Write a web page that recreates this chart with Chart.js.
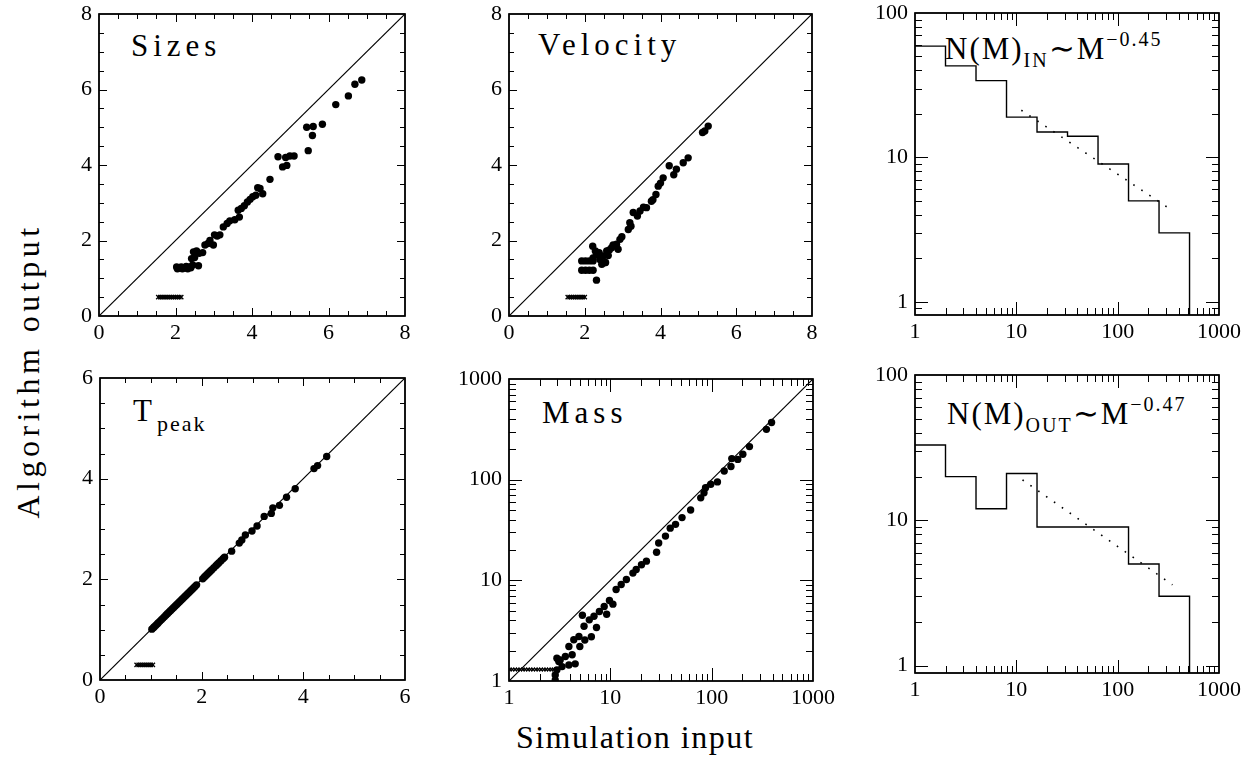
<!DOCTYPE html>
<html><head><meta charset="utf-8">
<script src="https://cdn.jsdelivr.net/npm/chart.js@4"></script>
<style>
body{margin:0;background:#fff;width:1254px;height:761px;position:relative;overflow:hidden;font-family:'Liberation Serif',serif;}
canvas{position:absolute;}
.lbl{position:absolute;font-family:'Liberation Serif',serif;color:#000;white-space:nowrap;font-size:31px;line-height:1;letter-spacing:5px;}
.sub{font-size:20px;position:relative;top:8px;letter-spacing:2px;}
.sup{font-size:20px;position:relative;top:-13px;letter-spacing:2px;}
.title{position:absolute;font-family:'Liberation Serif',serif;color:#000;white-space:nowrap;font-size:32px;line-height:1;}
</style></head><body>
<div class="lbl" style="left:131px;top:30px;">Sizes</div>
<div class="lbl" style="left:538px;top:29px;">Velocity</div>
<div class="lbl" style="left:945px;top:33px;letter-spacing:2px;">N(M)<span class="sub">IN</span>&sim;M<span class="sup">&minus;0.45</span></div>
<div class="lbl" style="left:133px;top:395px;">T<span class="sub" style="font-size:22px;top:10px;">peak</span></div>
<div class="lbl" style="left:542px;top:397px;">Mass</div>
<div class="lbl" style="left:947px;top:398px;letter-spacing:2px;">N(M)<span class="sub">OUT</span>&sim;M<span class="sup">&minus;0.47</span></div>
<div class="title" style="left:635px;top:737px;transform:translate(-50%,-50%);letter-spacing:1.5px;">Simulation input</div>
<div class="title" style="left:28px;top:371px;transform:translate(-50%,-50%) rotate(-90deg);letter-spacing:4.5px;">Algorithm output</div>

<script>
// ---------------- DATA ----------------
// Sizes panel
const sizesX = [6.87,6.69,6.52,6.19,5.84,5.60,5.43,5.58,5.47,5.10,4.99,4.88,4.68,4.91,4.80,4.47,4.28,4.21,4.15,4.10,4.02,3.95,3.88,3.80,3.72,3.64,3.67,3.55,3.42,3.35,3.25,3.16,3.09,3.02,2.90,2.99,2.85,2.77,2.71,2.62,2.55,2.47,2.42,2.50,2.60,2.45,2.40,2.32,2.25,2.18,2.10,2.03,2.05,2.15,2.28,2.36];
const sizesY = [6.25,6.14,5.83,5.60,5.08,5.02,5.00,4.78,4.38,4.24,4.24,4.20,4.22,3.99,3.95,3.62,3.24,3.38,3.40,3.20,3.16,3.09,3.02,2.92,2.85,2.80,2.62,2.55,2.52,2.45,2.36,2.15,2.12,2.15,2.00,1.88,1.92,1.88,1.68,1.66,1.72,1.70,1.52,1.55,1.33,1.35,1.28,1.25,1.27,1.25,1.27,1.30,1.25,1.30,1.31,1.30];
const sizesCrossX = [1.55,1.60,1.65,1.70,1.75,1.80,1.85,1.90,1.95,2.00,2.05,2.10,2.15];
const sizesCrossY = [0.5,0.5,0.5,0.5,0.5,0.5,0.5,0.5,0.5,0.5,0.5,0.5,0.5];

// Velocity panel
const velX = [5.26,5.11,5.17,4.73,4.60,4.42,4.35,4.23,4.07,4.00,3.94,3.88,3.80,3.76,3.63,3.55,3.46,3.39,3.28,3.19,3.15,3.22,2.98,2.93,2.84,2.88,2.71,2.65,2.58,2.49,2.45,2.55,2.31,2.21,2.22,2.28,2.40,2.53,2.38,2.62,2.75,1.92,2.02,2.12,2.22,1.92,2.02,2.12,2.22,2.31];
const velY = [5.03,4.86,4.90,4.19,4.06,3.89,3.74,3.98,3.66,3.52,3.44,3.22,3.08,3.04,2.87,2.88,2.78,2.65,2.74,2.47,2.29,2.38,2.10,2.03,1.90,1.77,1.81,1.75,1.72,1.59,1.37,1.42,1.63,1.85,1.54,1.72,1.50,1.41,1.68,1.60,1.88,1.46,1.46,1.46,1.46,1.21,1.21,1.21,1.21,0.95];
const velCrossX = [1.55,1.60,1.65,1.70,1.75,1.80,1.85,1.90,1.95,2.00];
const velCrossY = [0.5,0.5,0.5,0.5,0.5,0.5,0.5,0.5,0.5,0.5];

// T_peak panel
const tpX = [1.02,1.05,1.07,1.10,1.13,1.15,1.18,1.21,1.24,1.27,1.30,1.33,1.36,1.39,1.42,1.45,1.48,1.51,1.54,1.57,1.60,1.63,1.66,1.69,1.72,1.75,1.78,1.81,1.84,1.87,1.90,2.02,2.05,2.08,2.11,2.14,2.17,2.20,2.24,2.28,2.31,2.34,2.38,2.42,2.45,2.59,2.74,2.79,2.86,2.99,3.09,3.23,3.37,3.40,3.53,3.67,3.84,4.21,4.28,4.46];
const tpY = [1.01,1.04,1.06,1.09,1.12,1.14,1.17,1.20,1.23,1.26,1.29,1.32,1.35,1.38,1.41,1.44,1.47,1.50,1.53,1.56,1.59,1.62,1.65,1.68,1.71,1.74,1.77,1.80,1.83,1.86,1.89,2.01,2.04,2.07,2.10,2.13,2.16,2.19,2.23,2.27,2.30,2.33,2.37,2.41,2.44,2.56,2.72,2.78,2.88,2.96,3.06,3.25,3.31,3.42,3.47,3.63,3.80,4.20,4.26,4.44];
const tpCrossX = [0.72,0.76,0.80,0.84,0.88,0.92,0.96,1.00,1.04];
const tpCrossY = [0.3,0.3,0.3,0.3,0.3,0.3,0.3,0.3,0.3];

// Mass panel
const massX = [390,347,236,203,181,158,155,133,114,98,87,84,78,62,51,44,39,35,30,28.6,22.7,20.3,18,16.7,14.4,12.8,11.4,9.8,8.7,7.8,6.9,6.2,5.5,5.3,4.9,4.36,3.9,4.2,3.6,3.2,2.97,3.9,3.34,2.97,2.86,2.86,3.1,4.5,5.0,5.6,6.5,7.3,9.2,10.6];
const massY = [370,316,213,179,159,162,135,122,95,90,83,74,66,50,42,36,33,27.5,23.5,19,15.5,14.3,12.8,11.8,10.2,9.1,8.1,6.3,5.5,4.9,4.4,4.05,3.5,4.5,2.77,2.57,2.2,1.82,1.75,1.62,1.68,1.44,1.39,1.29,1.15,1.02,1.56,1.48,2.2,2.55,2.75,3.4,4.6,5.8];
const massCrossX = [1.02,1.08,1.15,1.22,1.29,1.37,1.45,1.54,1.63,1.73,1.84,1.95,2.07,2.2,2.33,2.47,2.62,2.75];
const massCrossY = [1.3,1.3,1.3,1.3,1.3,1.3,1.3,1.3,1.3,1.3,1.3,1.3,1.3,1.3,1.3,1.3,1.3,1.3];

// Mass function histograms (bin edges and counts)
const binEdges = [1,2,4,8,16,32,64,128,256,512];
const countsIn = [59,43,34,19,15,14,9,5,3];
const countsOut = [33,20,12,21,9,9,9,5,3];
const fitInX = [11.2,353]; const fitInY = [21.2,4.25];
const fitOutX = [11.5,347]; const fitOutY = [19,3.6];

// Identity lines
const idLin8 = [0,8]; const idLin6 = [0,6]; const idLog = [1,1000];

// Tick labels
const linTicks8 = [0,2,4,6,8]; const linTicks6 = [0,2,4,6]; const logTicks = [1,10,100,1000];

// ---------------- LAYOUT ----------------
const PADL=62, PADT=16, PADR=32, PADB=44;
const FONT = {family:"'Liberation Serif', serif", size:22};

const pts = (xs, ys) => xs.map((x,i)=>({x:x, y:ys[i]}));
function histPts(edges, counts, ymin){
  const out=[];
  counts.forEach((c,i)=>{ out.push({x:edges[i],y:c}); out.push({x:edges[i+1],y:c}); });
  out.push({x:edges[counts.length], y:ymin});
  return out;
}
function linMinor(min,max,step){const a=[];for(let v=min;v<=max+1e-9;v+=step)a.push(+v.toFixed(4));return a;}
function logMinor(min,max){const a=[];for(let d=0.1;d<=max;d*=10){for(let k=1;k<=9;k++){const v=+(k*d).toPrecision(6);if(v>=min&&v<=max)a.push(v);}}return a;}
function logMajor(min,max){return logTicks.filter(v=>v>=min&&v<=max);}

// position of a value along an axis, through the scale (with a mapping fallback on the same scale range)
function axisPix(scale, v, a, horizontal){
  let p = scale.getPixelForValue(Number(v));
  if (!isFinite(p)) {
    const lo = scale.min, hi = scale.max;
    const t = scale.type === 'logarithmic'
      ? (Math.log10(v)-Math.log10(lo))/(Math.log10(hi)-Math.log10(lo))
      : (v-lo)/(hi-lo);
    p = horizontal ? a.left + t*(a.right-a.left) : a.bottom - t*(a.bottom-a.top);
  }
  return Math.round(p);
}

function drawFrame(chart, cfg){
  try{
    const ctx = chart.ctx, a = chart.chartArea;
    const xs = chart.scales.x, ys = chart.scales.y;
    ctx.save();
    ctx.strokeStyle='#000';
    ctx.fillStyle='#000';
    ctx.lineWidth=1.4;
    ctx.strokeRect(a.left,a.top,a.right-a.left,a.bottom-a.top);
    const L=Math.round(a.left), R=Math.round(a.right), T=Math.round(a.top), B=Math.round(a.bottom);
    const doX=(vals,len)=>{ for(let i=0;i<vals.length;i++){ const p=axisPix(xs,vals[i],a,true); if(p<=L+1||p>=R-1) continue; ctx.fillRect(p,B-len,1,len); ctx.fillRect(p,T,1,len); } };
    const doY=(vals,len)=>{ for(let i=0;i<vals.length;i++){ const p=axisPix(ys,vals[i],a,false); if(p<=T+1||p>=B-1) continue; ctx.fillRect(L,p,len,1); ctx.fillRect(R-len,p,len,1); } };
    doX(cfg.xMinor,cfg.minLen); doX(cfg.xMajor,cfg.majLen);
    doY(cfg.yMinor,cfg.minLen); doY(cfg.yMajor,cfg.majLen);
    ctx.restore();
  }catch(e){}
}

function makeFramePlugin(cfg){
  return {
    id:'frameticks',
    afterDatasetsDraw(chart){ drawFrame(chart, cfg); },
    afterDraw(chart){ drawFrame(chart, cfg); }
  };
}

function axis(kind, min, max, ticksList, isX){
  return {
    type: kind, min: min, max: max,
    grid:{display:false, drawTicks:false},
    border:{display:false},
    ticks:{color:'#000', font:FONT, padding: isX?4:7, autoSkip:false, maxRotation:0,
      callback:(v)=>String(v)},
    afterBuildTicks:(sc)=>{ sc.ticks = ticksList.filter(v=>v>=min-1e-9&&v<=max+1e-9).map(v=>({value:v})); },
    afterFit:(sc)=>{ if(isX){sc.height=PADB;} else {sc.width=PADL;} sc.paddingLeft=0;sc.paddingRight=0;sc.paddingTop=0;sc.paddingBottom=0; }
  };
}

function makePanel(geom, xAxis, yAxis, datasets, cfg){
  const c = document.createElement('canvas');
  const w = (geom.R-geom.L)+PADL+PADR, h=(geom.B-geom.T)+PADT+PADB;
  c.width=w; c.height=h;
  c.style.left=(geom.L-PADL)+'px'; c.style.top=(geom.T-PADT)+'px';
  c.style.width=w+'px'; c.style.height=h+'px';
  document.body.appendChild(c);
  new Chart(c,{
    type:'scatter',
    data:{datasets:datasets},
    options:{
      responsive:false, animation:false, devicePixelRatio:1, events:[],
      layout:{padding:{top:PADT,right:PADR,left:0,bottom:0}},
      plugins:{legend:{display:false},tooltip:{enabled:false}},
      scales:{x:xAxis,y:yAxis}
    },
    plugins:[makeFramePlugin(cfg)]
  });
}

const lineDS = (data)=>({data:data, showLine:true, pointRadius:0, borderColor:'#000', borderWidth:1.2, fill:false, order:3});
const dotDS = (data)=>({data:data, pointRadius:3.7, pointStyle:'circle', backgroundColor:'#000', borderColor:'#000', borderWidth:0, showLine:false, order:1});
const crossDS = (data,r)=>({data:data, pointRadius:r, pointStyle:'crossRot', borderColor:'#000', borderWidth:1.3, backgroundColor:'#000', showLine:false, order:2});
const histDS = (data)=>({data:data, showLine:true, pointRadius:0, borderColor:'#000', borderWidth:1.4, fill:false, tension:0, order:1});
const dotLineDS = (data)=>({data:data, showLine:true, pointRadius:0, borderColor:'#000', borderWidth:1.6, borderDash:[1.6,8], fill:false, order:2});

const lin8 = {xMajor:linTicks8, xMinor:linMinor(0,8,0.5), yMajor:linTicks8, yMinor:linMinor(0,8,0.5), majLen:8, minLen:5};
const lin6 = {xMajor:linTicks6, xMinor:linMinor(0,6,0.5), yMajor:linTicks6, yMinor:linMinor(0,6,0.5), majLen:8, minLen:5};
const logFrame = (ymin,ymax)=>({xMajor:logMajor(1,1000), xMinor:logMinor(1,1000), yMajor:logMajor(ymin,ymax), yMinor:logMinor(ymin,ymax), majLen:13, minLen:7});

const Y_MIN_IN = 0.81, Y_MIN_OUT = 0.89;

// Top-left: Sizes
makePanel({L:99,T:14,R:405,B:316},
  axis('linear',0,8,linTicks8,true), axis('linear',0,8,linTicks8,false),
  [lineDS(pts(idLin8,idLin8)), dotDS(pts(sizesX,sizesY)), crossDS(pts(sizesCrossX,sizesCrossY),3)], lin8);
// Top-middle: Velocity
makePanel({L:509,T:14,R:812,B:316},
  axis('linear',0,8,linTicks8,true), axis('linear',0,8,linTicks8,false),
  [lineDS(pts(idLin8,idLin8)), dotDS(pts(velX,velY)), crossDS(pts(velCrossX,velCrossY),3)], lin8);
// Top-right: N(M) IN
makePanel({L:915,T:13,R:1219,B:315},
  axis('logarithmic',1,1000,logTicks,true), axis('logarithmic',Y_MIN_IN,100,logTicks,false),
  [histDS(histPts(binEdges,countsIn,Y_MIN_IN)), dotLineDS(pts(fitInX,fitInY))], logFrame(Y_MIN_IN,100));
// Bottom-left: T_peak
makePanel({L:100,T:378,R:405,B:680},
  axis('linear',0,6,linTicks6,true), axis('linear',0,6,linTicks6,false),
  [lineDS(pts(idLin6,idLin6)), dotDS(pts(tpX,tpY)), crossDS(pts(tpCrossX,tpCrossY),3)], lin6);
// Bottom-middle: Mass
makePanel({L:509,T:379,R:813,B:681},
  axis('logarithmic',1,1000,logTicks,true), axis('logarithmic',1,1000,logTicks,false),
  [lineDS(pts(idLog,idLog)), dotDS(pts(massX,massY)), crossDS(pts(massCrossX,massCrossY),2.5)], logFrame(1,1000));
// Bottom-right: N(M) OUT
makePanel({L:915,T:375,R:1219,B:673},
  axis('logarithmic',1,1000,logTicks,true), axis('logarithmic',Y_MIN_OUT,100,logTicks,false),
  [histDS(histPts(binEdges,countsOut,Y_MIN_OUT)), dotLineDS(pts(fitOutX,fitOutY))], logFrame(Y_MIN_OUT,100));
</script>
</body></html>
